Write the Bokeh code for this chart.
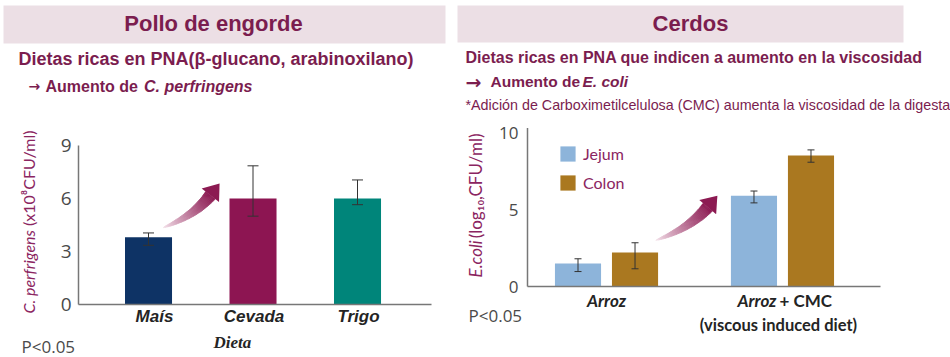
import numpy as np
from bokeh.plotting import figure
from bokeh.models import Range1d, Legend, LegendItem
from bokeh.embed import file_html
from bokeh.resources import INLINE
from bokeh.core.properties import value

# ---------------- data ----------------
pollo_dietas = ["Maís", "Cevada", "Trigo"]
pollo_vals = [3.8, 6.0, 6.0]
pollo_lower = [3.35, 5.0, 5.65]
pollo_upper = [4.05, 7.85, 7.05]
pollo_colors = ["#0e3365", "#8d1552", "#00857a"]
pollo_yticks = [0, 3, 6, 9]

cerdo_groups = ["Arroz", "Arroz + CMC"]
cerdo_series = ["Jejum", "Colon"]
jejum_vals = [1.5, 5.9]
jejum_lower = [0.97, 5.43]
jejum_upper = [1.8, 6.2]
colon_vals = [2.2, 8.5]
colon_lower = [1.15, 8.07]
colon_upper = [2.84, 8.87]
cerdo_colors = ["#8db4da", "#aa7820"]
cerdo_yticks = [0, 5, 10]

# ---------------- styling ----------------
W, H = 950, 357
MAROON = "#7b1d4f"
AXIS_T = "#8b2561"
GREY_T = "#4a4a4a"
DARK = "#242424"
BAND = "#ecdfe5"
AX_COL = "#777777"

p = figure(width=W, height=H, x_range=Range1d(0, W), y_range=Range1d(H, 0),
           x_axis_type=None, y_axis_type=None, min_border=0,
           output_backend="svg", toolbar_location=None)
p.outline_line_color = None
p.background_fill_color = "white"


def x_range_for(v_a, px_a, v_b, px_b):
    s = (px_b - px_a) / (v_b - v_a)
    start = v_a - px_a / s
    return Range1d(start, start + W / s), s


def y_range_for(v_a, py_a, v_b, py_b):
    s = (py_a - py_b) / (v_b - v_a)
    start = v_a - (H - py_a) / s
    return Range1d(start, start + H / s), s


# chart placements (screen positions of the two plotting areas)
xL_axis = (0.33, 3.708)
xR_axis = (0.551, 2.557)
yL_top, yR_top = 9.0, 10.3
rxL, sxL = x_range_for(xL_axis[0], 78, xL_axis[1], 431)
ryL, syL = y_range_for(0, 304, 9, 145)
rxR, sxR = x_range_for(xR_axis[0], 527, xR_axis[1], 880)
ryR, syR = y_range_for(0, 286, 10, 132)
p.extra_x_ranges = {"xL": rxL, "xR": rxR}
p.extra_y_ranges = {"yL": ryL, "yR": ryR}
L = dict(x_range_name="xL", y_range_name="yL")
R = dict(x_range_name="xR", y_range_name="yR")


def txt(x, y, s, size, font="Liberation Sans", style="bold", align="left",
        color=MAROON, baseline="middle", angle=0.0, xo=0, yo=0, rng=None):
    kw = rng or {}
    xs = x if isinstance(x, (list, tuple)) else [x]
    ys = y if isinstance(y, (list, tuple)) else [y]
    ss = s if isinstance(s, (list, tuple)) else [s]
    p.text(x=list(xs), y=list(ys), text=list(ss), text_font=value(font),
           text_font_size=size, text_font_style=style, text_color=color,
           text_align=align, text_baseline=baseline, angle=angle,
           x_offset=xo, y_offset=yo, **kw)


# ---------------- headers ----------------
p.quad(left=[3, 457], right=[445, 903], top=[5, 5], bottom=[43, 42],
       fill_color=BAND, line_color=None)
txt(213, 22.5, "Pollo de engorde", "22px", align="center")
txt(690, 22.5, "Cerdos", "22px", align="center")
txt(18, 58, "Dietas ricas en PNA(β-glucano, arabinoxilano)", "18px")
txt(28, 85.5, "→", "14px", font="DejaVu Sans")
txt(45, 85.5, "Aumento de ", "16px")
txt(252, 85.5, "C. perfringens", "16px", style="bold italic", align="right")
txt(465, 56.5, "Dietas ricas en PNA que indicen a aumento en la viscosidad", "16px")
txt(465, 81, "→", "19px", font="DejaVu Sans")
txt(490, 81, "Aumento de", "15.5px")
txt(582, 81, "E. coli", "15.5px", style="bold italic", align="left")
txt(465, 104, "*Adición de Carboximetilcelulosa (CMC) aumenta la viscosidad de la digesta",
    "14.3px", style="normal")


# ---------------- helpers ----------------
def axes(rng, xa, ytop, ticks, tick_size, standoff):
    p.segment(x0=[xa[0], xa[0]], y0=[0, 0], x1=[xa[0], xa[1]], y1=[ytop, 0],
              line_color=AX_COL, line_width=1.5, **rng)
    txt([xa[0]] * len(ticks), list(ticks), [str(t) for t in ticks], tick_size,
        font="Open Sans", style="normal", align="right", color=GREY_T,
        xo=-standoff, rng=rng)


def errorbars(x, lower, upper, cap, rng):
    p.segment(x0=x, y0=lower, x1=x, y1=upper, line_color="#333333", line_width=1, **rng)
    p.scatter(x=x + x, y=list(lower) + list(upper), marker="dash", size=cap,
              line_color="#333333", line_width=1, **rng)


def add_arrow(tail, tip, sx, sy, rng, bend_deg=14, shaft_hw=6, head_hw=11, head_len=15, n=40):
    T = np.array([tail[0] * sx, tail[1] * sy], float)
    Hh = np.array([tip[0] * sx, tip[1] * sy], float)
    d = (Hh - T) / np.linalg.norm(Hh - T)
    a = np.radians(bend_deg)
    u = np.array([d[0] * np.cos(a) - d[1] * np.sin(a), d[0] * np.sin(a) + d[1] * np.cos(a)])
    B = Hh - head_len * u
    C = B - 0.45 * np.linalg.norm(B - T) * u
    t = np.linspace(0, 1, n)
    P = ((1 - t) ** 2)[:, None] * T + (2 * (1 - t) * t)[:, None] * C + (t ** 2)[:, None] * B
    D = (2 * (1 - t))[:, None] * (C - T) + (2 * t)[:, None] * (B - C)
    D /= np.linalg.norm(D, axis=1)[:, None]
    N = np.stack([-D[:, 1], D[:, 0]], axis=1)
    wdt = shaft_hw * t ** 0.7
    Lp = P + wdt[:, None] * N
    Rp = P - wdt[:, None] * N
    c0 = np.array([247, 232, 239])
    c1 = np.array([140, 26, 82])
    xs, ys, cols = [], [], []
    for i in range(n - 1):
        q = np.array([Lp[i], Lp[i + 1], Rp[i + 1], Rp[i]])
        xs.append(list(q[:, 0] / sx))
        ys.append(list(q[:, 1] / sy))
        f = ((i + 0.5) / (n - 1)) ** 0.8
        c = c0 + (c1 - c0) * f
        cols.append("#%02x%02x%02x" % tuple(int(round(v)) for v in c))
    p.patches(xs, ys, fill_color=cols, line_color=cols, line_width=0.8, **rng)
    Nh = np.array([-u[1], u[0]])
    head = np.array([B + head_hw * Nh, Hh, B - head_hw * Nh])
    p.patch(list(head[:, 0] / sx), list(head[:, 1] / sy), fill_color="#8c1a52",
            line_color=None, **rng)


# ---------------- left chart (Pollo de engorde) ----------------
xL = list(range(1, len(pollo_dietas) + 1))
p.vbar(x=xL, top=pollo_vals, width=0.45, fill_color=pollo_colors, line_color=None, **L)
errorbars(xL, pollo_lower, pollo_upper, 11, L)
axes(L, xL_axis, yL_top, pollo_yticks, "19px", 7)
txt(xL, [0] * len(xL), pollo_dietas, "17px", style="bold italic", align="center",
    color=DARK, xo=[6, 1, 1], yo=12, rng=L)
add_arrow((xL[0] + 0.14, pollo_vals[0] + 0.55), (xL[0] + 0.68, pollo_vals[1] + 0.85),
          sxL, syL, L)

txt(21, 346, "P<0.05", "17px", font="Open Sans", style="normal", color=GREY_T)
txt(213, 342, "Dieta", "17px", font="Liberation Serif", style="bold italic", color=DARK)
txt(28, 313, "C. perfrigens ", "16px", font="Lato", style="italic", color=AXIS_T,
    angle=np.pi / 2)
txt(28, 130, "(x10⁸CFU/ml)", "16px", font="Lato", style="normal", color=AXIS_T,
    align="right", angle=np.pi / 2)

# ---------------- right chart (Cerdos) ----------------
xg = np.arange(1, len(cerdo_groups) + 1)
off = 0.162
xj = list(xg - off)
xc = list(xg + off)
rJ = p.vbar(x=xj, top=jejum_vals, width=0.262, fill_color=cerdo_colors[0], line_color=None, **R)
rC = p.vbar(x=xc, top=colon_vals, width=0.262, fill_color=cerdo_colors[1], line_color=None, **R)
errorbars(xj, jejum_lower, jejum_upper, 7, R)
errorbars(xc, colon_lower, colon_upper, 7, R)
axes(R, xR_axis, yR_top, cerdo_yticks, "17px", 9)

gx = [float(v) for v in xg]
txt(gx[0], 0, cerdo_groups[0], "17px", font="Lato", style="bold italic", align="center",
    color=DARK, yo=13.5, rng=R)
txt(gx[1], 0, "Arroz", "17px", font="Lato", style="bold italic", align="right",
    color=DARK, xo=-6, yo=13.5, rng=R)
txt(gx[1], 0, "+ CMC", "17px", font="Lato", style="bold", align="left",
    color=DARK, xo=-3, yo=13.5, rng=R)
txt(gx[1], 0, "(viscous induced diet)", "16.5px", font="Lato", style="bold", align="center",
    color=DARK, xo=-4, yo=38.5, rng=R)

add_arrow((gx[0] + 0.28, colon_vals[0] + 0.8), (gx[0] + 0.63, jejum_vals[1] + 0.0),
          sxR, syR, R)

txt(468, 315, "P<0.05", "17px", font="Open Sans", style="normal", color=GREY_T)
txt(475, 277, "E.coli ", "17px", font="Lato", style="italic", color=AXIS_T,
    angle=np.pi / 2)
txt(475, 133, "(log₁₀,CFU/ml)", "17px", font="Lato", style="normal", color=AXIS_T,
    align="right", angle=np.pi / 2)

legend = Legend(items=[LegendItem(label=cerdo_series[0], renderers=[rJ]),
                       LegendItem(label=cerdo_series[1], renderers=[rC])],
                location=(558, H - 192), glyph_width=19, glyph_height=19, label_height=19,
                spacing=10, padding=0, margin=0, label_standoff=6,
                background_fill_alpha=0, border_line_color=None,
                label_text_color=AXIS_T, label_text_font="Lato", label_text_font_size="16px")
p.add_layout(legend)

open("out.html", "w").write(file_html(p, INLINE))
